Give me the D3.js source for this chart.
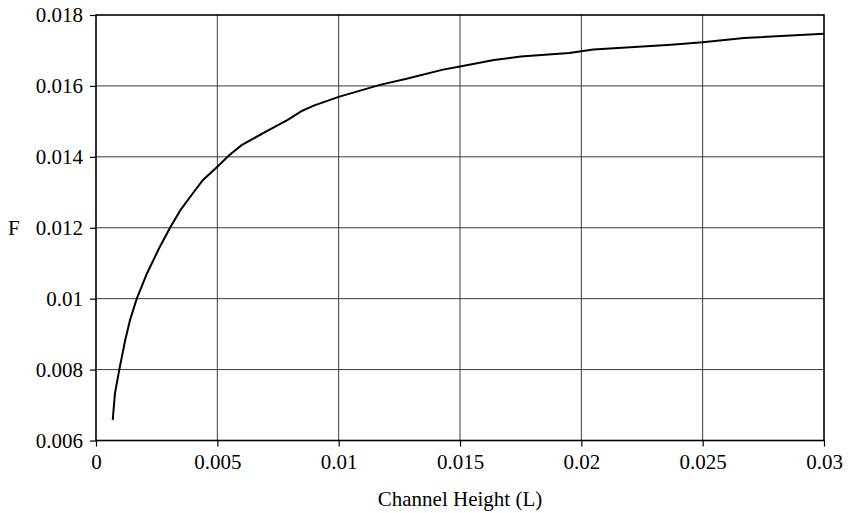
<!doctype html>
<html>
<head>
<meta charset="UTF-8">
<title>F vs channel height</title>
<script src="https://d3js.org/d3.v7.min.js"></script>
<style>
  body { margin: 0; background: #fff; }
  text { font-family: "Liberation Serif", "Times New Roman", serif; }
</style>
</head>
<body>
<svg width="849" height="513" id="chart"></svg>
<script>
// channel height (L) and F
var heights = [0.00069, 0.00078, 0.00096, 0.0012, 0.0014, 0.00168, 0.0021, 0.0026, 0.00305, 0.0035,
               0.004, 0.0044, 0.005, 0.0055, 0.006, 0.007, 0.0079, 0.0085, 0.009, 0.01,
               0.0117, 0.0128, 0.0143, 0.015, 0.0164, 0.0175, 0.0195, 0.0205, 0.0237, 0.025,
               0.0267, 0.03];
var fValues = [0.00658, 0.00732, 0.0080, 0.00882, 0.00939, 0.0100, 0.01071, 0.01142, 0.0120, 0.01252,
               0.01298, 0.01334, 0.01372, 0.01405, 0.01433, 0.01471, 0.01504, 0.0153, 0.01545, 0.01569,
               0.01603, 0.0162, 0.01646, 0.01655, 0.01673, 0.01683, 0.01693, 0.01703, 0.01716, 0.01723,
               0.01735, 0.01747];
var xTicks = [0, 0.005, 0.01, 0.015, 0.02, 0.025, 0.03];
var xTickLabels = ["0", "0.005", "0.01", "0.015", "0.02", "0.025", "0.03"];
var yTicks = [0.006, 0.008, 0.01, 0.012, 0.014, 0.016, 0.018];
var yTickLabels = ["0.006", "0.008", "0.01", "0.012", "0.014", "0.016", "0.018"];

var pLeft = 96, pRight = 824, pTop = 15, pBottom = 440.5;
var fontSize = "21px";
var svg = d3.select("#chart");

var x = d3.scaleLinear().domain([0, 0.03]).range([pLeft, pRight]);
var y = d3.scaleLinear().domain([0.006, 0.018]).range([pBottom, pTop]);

// grid
svg.append("g").selectAll("line").data(xTicks.slice(1, -1)).enter()
  .append("line")
  .attr("x1", function(d){ return x(d); }).attr("x2", function(d){ return x(d); })
  .attr("y1", pTop).attr("y2", pBottom)
  .attr("stroke", "#3a3a3a").attr("stroke-width", 1);
svg.append("g").selectAll("line").data(yTicks.slice(1, -1)).enter()
  .append("line")
  .attr("x1", pLeft).attr("x2", pRight)
  .attr("y1", function(d){ return y(d); }).attr("y2", function(d){ return y(d); })
  .attr("stroke", "#3a3a3a").attr("stroke-width", 1);

// axes
var xAxis = d3.axisBottom(x).tickValues(xTicks).tickSize(6).tickPadding(8)
  .tickFormat(function(d, i){ return xTickLabels[i]; });
var yAxis = d3.axisLeft(y).tickValues(yTicks).tickSize(6).tickPadding(7)
  .tickFormat(function(d, i){ return yTickLabels[i]; });

var gx = svg.append("g").attr("transform", "translate(0," + pBottom + ")").call(xAxis);
var gy = svg.append("g").attr("transform", "translate(" + pLeft + ",0)").call(yAxis);
[gx, gy].forEach(function(g){
  g.select(".domain").remove();
  g.selectAll(".tick line").attr("stroke", "#000").attr("stroke-width", 1.2);
  g.selectAll(".tick text").attr("fill", "#000")
    .style("font-family", '"Liberation Serif", serif').style("font-size", fontSize);
});

// frame
svg.append("rect")
  .attr("x", pLeft).attr("y", pTop)
  .attr("width", pRight - pLeft).attr("height", pBottom - pTop)
  .attr("fill", "none").attr("stroke", "#000").attr("stroke-width", 1.6);

// curve
var pts = heights.map(function(h, i){ return [h, fValues[i]]; });
svg.append("path")
  .datum(pts)
  .attr("d", d3.line().x(function(d){ return x(d[0]); }).y(function(d){ return y(d[1]); }))
  .attr("fill", "none").attr("stroke", "#000").attr("stroke-width", 2);

// axis titles
svg.append("text").attr("x", (pLeft + pRight) / 2).attr("y", 506)
  .attr("text-anchor", "middle").style("font-size", fontSize).text("Channel Height (L)");
svg.append("text").attr("x", 8).attr("y", y(0.012) + 7)
  .style("font-size", fontSize).text("F");
</script>
</body>
</html>
